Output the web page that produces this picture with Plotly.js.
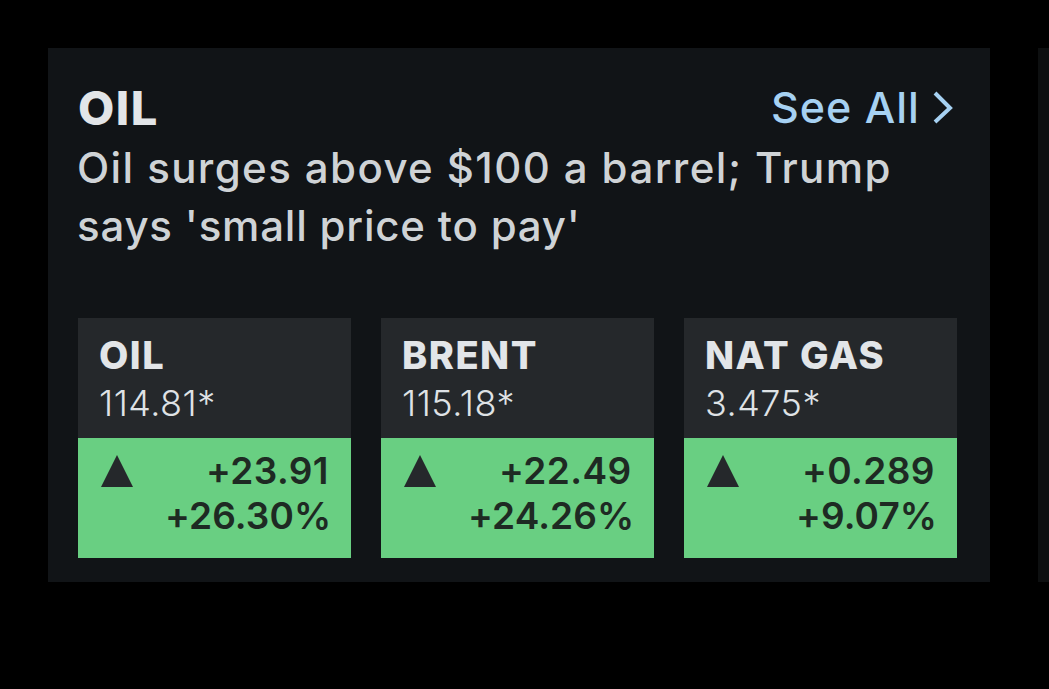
<!DOCTYPE html>
<html><head><meta charset="utf-8">
<script src="https://cdn.plot.ly/plotly-3.0.1.min.js"></script>
<style>html,body{margin:0;padding:0;background:#000}</style></head>
<body><div id="c" style="width:1049px;height:689px"></div>
<script>
const section = 'OIL';
const link = 'See All';
const headlineLines = ['Oil surges above $100 a barrel; Trump', "says 'small price to pay'"];
const names = ['OIL', 'BRENT', 'NAT GAS'];
const prices = ['114.81*', '115.18*', '3.475*'];
const changes = ['+23.91', '+22.49', '+0.289'];
const percents = ['+26.30%', '+24.26%', '+9.07%'];

const FONT = 'Inter, "Open Sans", sans-serif';
const W = 1049, H = 689;
const tileLeft = [78, 381, 684], tileW = 273;
const shapes = [], ann = [];
function rect(x0, y0, x1, y1, c) {
  shapes.push({type:'rect', xref:'x', yref:'y', x0, y0, x1, y1, fillcolor:c, line:{width:0}, layer:'below'});
}
function text(t, x, y, size, color, anchor, weight, sp) {
  ann.push({text:`<span style="letter-spacing:${sp}px">${t}</span>`, x, y, xref:'x', yref:'y', showarrow:false,
    xanchor:anchor, yanchor:'middle', borderpad:0, font:{family:FONT, size, color, weight}});
}
rect(48, 48, 990, 582, '#111417');
rect(1038, 48, 1049, 582, '#0d0f10');
text(section, 77, 107, 47, '#e2e5e8', 'left', 800, 1.5);
text(link, 770, 107, 43, '#a6d1f2', 'left', 500, 1.0);
shapes.push({type:'path', path:'M 935 93 L 950 108 L 935 122', xref:'x', yref:'y',
  line:{color:'#a6d1f2', width:4}, fillcolor:'rgba(0,0,0,0)'});
text(headlineLines[0], 76, 167, 42, '#cfd3d6', 'left', 500, 1.4);
text(headlineLines[1], 76, 225, 42, '#cfd3d6', 'left', 500, 0.8);
names.forEach((n, i) => {
  const x = tileLeft[i];
  rect(x, 318, x + tileW, 438, '#25282b');
  rect(x, 438, x + tileW, 558, '#69cf82');
  text(n, x + 20, 355, 38, '#e2e5e8', 'left', 800, 1.5);
  text(prices[i], x + 20, 403, 36, '#dfe2e5', 'left', 300, 0.5);
  const tx = x + 39;
  shapes.push({type:'path', path:`M ${tx-16} 487 L ${tx} 455 L ${tx+16} 487 Z`, xref:'x', yref:'y',
    fillcolor:'#25282b', line:{width:0}});
  text(changes[i], x + 252, 470, 37, '#1e2a23', 'right', 600, 0.4);
  text(percents[i], x + 254, 515, 37, '#1e2a23', 'right', 600, 0.1);
});
Plotly.newPlot('c', [{x:[], y:[], type:'scatter', hoverinfo:'skip'}], {
  width:W, height:H, margin:{l:0,r:0,t:0,b:0}, paper_bgcolor:'#000', plot_bgcolor:'#000', showlegend:false,
  xaxis:{range:[0,W], visible:false, fixedrange:true},
  yaxis:{range:[H,0], visible:false, fixedrange:true},
  shapes, annotations:ann
}, {displayModeBar:false, staticPlot:true});
</script></body></html>
